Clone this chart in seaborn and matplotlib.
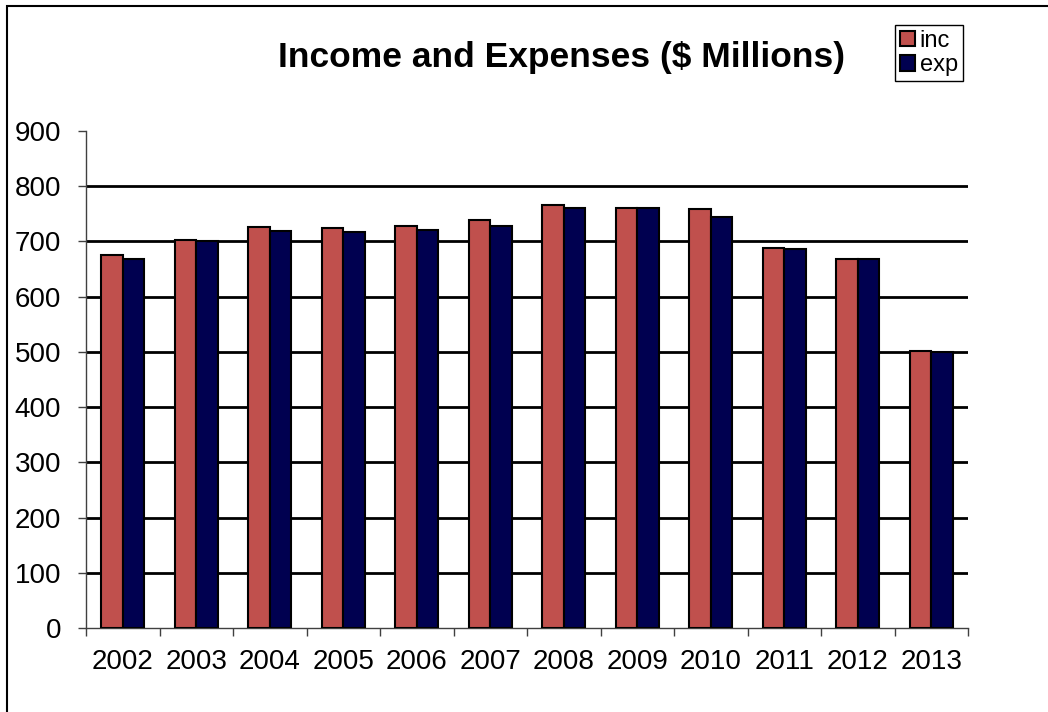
import numpy as np
import pandas as pd
import matplotlib
matplotlib.use("Agg")
import matplotlib.pyplot as plt
import seaborn as sns
from matplotlib.patches import Rectangle

# values ($ millions)
years = ["2002", "2003", "2004", "2005", "2006", "2007",
         "2008", "2009", "2010", "2011", "2012", "2013"]
income = [675, 702, 726, 725, 728, 739, 766, 761, 759, 688, 669, 502]
expenses = [668, 700, 719, 717, 721, 728, 761, 760, 745, 686, 669, 500]
y_ticks = [0, 100, 200, 300, 400, 500, 600, 700, 800, 900]

df = pd.DataFrame({
    "year": years * 2,
    "value": income + expenses,
    "series": ["inc"] * len(years) + ["exp"] * len(years),
})

sns.set_style("white")
plt.rcParams["font.family"] = ["Liberation Sans", "DejaVu Sans"]
plt.rcParams["text.color"] = "black"
plt.rcParams["xtick.color"] = "black"
plt.rcParams["ytick.color"] = "black"

W, H = 1048, 712
fig = plt.figure(figsize=(W / 100, H / 100), dpi=100)
ax = fig.add_axes([86 / W, 1 - 628 / H, (968 - 86) / W, (628 - 131) / H])

palette = {"inc": "#C0504D", "exp": "#000050"}
sns.barplot(data=df, x="year", y="value", hue="series", order=years,
            hue_order=["inc", "exp"], palette=palette, width=0.585,
            edgecolor="black", linewidth=1.5, saturation=1,
            legend=False, ax=ax, zorder=3)

# horizontal gridlines (no line at the top value)
for v in y_ticks[1:-1]:
    ax.axhline(v, color="black", lw=2, zorder=1)

ax.set_xlim(-0.5, len(years) - 0.5)
ax.set_ylim(0, 900)
ax.set_yticks(y_ticks)
ax.set_xlabel("")
ax.set_ylabel("")

ax.set_xticks(np.arange(-0.5, len(years)), minor=True)
ax.tick_params(axis="x", which="major", length=0, pad=15, labelsize=20,
               labelcolor="black")
ax.tick_params(axis="x", which="minor", length=6, width=1, direction="out",
               color="#404040", bottom=True)
ax.tick_params(axis="y", length=6, width=1, direction="out", pad=12,
               labelsize=20, color="#404040", labelcolor="black", left=True)

for s in ["top", "right"]:
    ax.spines[s].set_visible(False)
for s in ["left", "bottom"]:
    ax.spines[s].set_color("#404040")
    ax.spines[s].set_linewidth(1)

fig.text(562 / W, 1 - 67 / H, "Income and Expenses ($ Millions)",
         ha="center", va="baseline", fontsize=25.5, fontweight="bold",
         color="black")

handles = [Rectangle((0, 0), 1, 1, facecolor=palette[k], edgecolor="black", lw=1.5)
           for k in ["inc", "exp"]]
leg = fig.legend(handles, ["inc", "exp"], loc="upper left",
                 bbox_to_anchor=(895 / W, 1 - 25 / H), fontsize=17,
                 frameon=True, fancybox=False, edgecolor="black", framealpha=1,
                 handlelength=0.65, handleheight=0.65, handletextpad=0.2,
                 borderpad=0.2, labelspacing=0.1, borderaxespad=0)
for t in leg.get_texts():
    t.set_color("black")

# outer chart-area border (left and top edges visible)
fig.patches.append(Rectangle((7 / W, -0.05), 1.2, 1 - 6 / H + 0.05,
                             transform=fig.transFigure, fill=False,
                             edgecolor="black", lw=1.5))

fig.savefig("out.png", dpi=100)
